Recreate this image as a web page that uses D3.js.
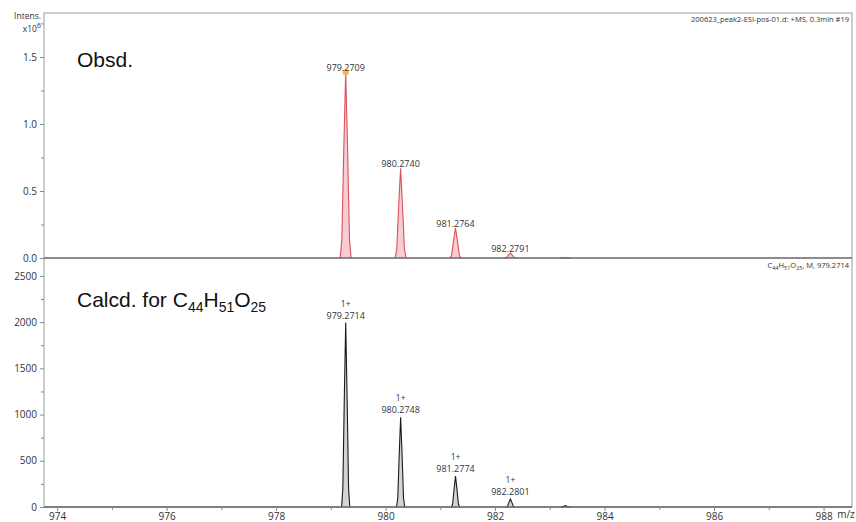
<!DOCTYPE html>
<html>
<head>
<meta charset="utf-8">
<script src="https://cdn.jsdelivr.net/npm/d3@7"></script>
<style>
  body { margin: 0; background: #fff; }
  text { font-family: "Open Sans", "DejaVu Sans", sans-serif; }
</style>
</head>
<body>
<svg id="chart" width="856" height="522"></svg>
<script>
// observed spectrum peaks (m/z, intensity x10^6)
var obsMz = [979.2709, 980.2740, 981.2764, 982.2791, 983.2820];
var obsInt = [1.385, 0.67, 0.224, 0.037, 0.004];
var obsLabels = ["979.2709", "980.2740", "981.2764", "982.2791", ""];

// calculated isotope pattern
var calcMz = [979.2714, 980.2748, 981.2774, 982.2801, 983.2830];
var calcInt = [1995, 970, 334, 86, 14];
var calcLabels = ["979.2714", "980.2748", "981.2774", "982.2801", ""];

var xTicks = [974, 976, 978, 980, 982, 984, 986, 988];
var xMinor = [975, 977, 979, 981, 983, 985, 987];
var yTopTicks = [0, 0.5, 1.0, 1.5];
var yTopMinor = [0.25, 0.75, 1.25, 1.75];
var yBotTicks = [0, 500, 1000, 1500, 2000, 2500];
var yBotMinor = [250, 750, 1250, 1750, 2250];

var mLeft = 44, mRight = 852, mTop = 13, mMid = 258, mBottom = 507;
var svg = d3.select("#chart");

var x = d3.scaleLinear().domain([973.76, 988.52]).range([mLeft, mRight]);
var yTop = d3.scaleLinear().domain([0, 1.828]).range([mMid, mTop]);
var yBot = d3.scaleLinear().domain([0, 2683]).range([mBottom, mMid + 1]);

// frame
svg.append("rect").attr("x", mLeft).attr("y", mTop)
  .attr("width", mRight - mLeft).attr("height", mBottom - mTop)
  .attr("fill", "none").attr("stroke", "#9a9a9a").attr("stroke-width", 1);

// peak profile template (shape only)
var shapeDx = [-1, -0.7, -0.35, 0, 0.35, 0.7, 1];
var shapeDy = [0, 0.1, 0.58, 1, 0.58, 0.1, 0];

function peakPoints(mz, h, half) {
  return shapeDx.map(function (d, i) { return [mz + d * half, h * shapeDy[i]]; });
}

function drawPeaks(mzs, ints, y, half, fill, stroke) {
  var area = d3.area().x(function (d) { return x(d[0]); })
    .y0(y(0)).y1(function (d) { return y(d[1]); });
  var line = d3.line().x(function (d) { return x(d[0]); })
    .y(function (d) { return y(d[1]); });
  var g = svg.append("g");
  mzs.forEach(function (m, i) {
    var pts = peakPoints(m, ints[i], half);
    g.append("path").attr("d", area(pts)).attr("fill", fill);
    g.append("path").attr("d", line(pts)).attr("fill", "none")
      .attr("stroke", stroke).attr("stroke-width", 1.1);
  });
}

drawPeaks(obsMz, obsInt, yTop, 0.1, "#f6cdd3", "#d8505c");
drawPeaks(calcMz, calcInt, yBot, 0.075, "#d4d4d4", "#1a1a1a");

// baselines
svg.append("line").attr("x1", mLeft).attr("x2", mRight)
  .attr("y1", mMid).attr("y2", mMid).attr("stroke", "#666").attr("stroke-width", 1.5);
svg.append("line").attr("x1", mLeft).attr("x2", mRight)
  .attr("y1", mBottom).attr("y2", mBottom).attr("stroke", "#666").attr("stroke-width", 1.5);

// apex marker on the base peak
svg.append("circle").attr("cx", x(obsMz[0])).attr("cy", yTop(obsInt[0]))
  .attr("r", 3.2).attr("fill", "#f2b54a").attr("opacity", 0.9);

// peak labels
svg.append("g").selectAll("text").data(obsMz).enter().append("text")
  .attr("x", function (d) { return x(d); })
  .attr("y", function (d, i) { return yTop(obsInt[i]) - 1; })
  .attr("text-anchor", "middle").attr("font-size", 9).attr("fill", "#333")
  .text(function (d, i) { return obsLabels[i]; });

var cl = svg.append("g").selectAll("g").data(calcMz.filter(function (d, i) { return calcLabels[i]; }))
  .enter().append("g");
cl.append("text")
  .attr("x", function (d) { return x(d); })
  .attr("y", function (d, i) { return yBot(calcInt[i]) - 16; })
  .attr("text-anchor", "middle").attr("font-size", 8.5).attr("fill", "#333").text("1+");
cl.append("text")
  .attr("x", function (d) { return x(d); })
  .attr("y", function (d, i) { return yBot(calcInt[i]) - 4; })
  .attr("text-anchor", "middle").attr("font-size", 9).attr("fill", "#333")
  .text(function (d, i) { return calcLabels[i]; });

// axes
function styleAxis(g) {
  g.select(".domain").remove();
  g.selectAll("line").attr("stroke", "#888");
  g.selectAll("text").attr("fill", "#333").attr("font-size", 10)
    .style("font-family", "'Open Sans', 'DejaVu Sans', sans-serif");
}

svg.append("g").attr("transform", "translate(" + mLeft + ",0)")
  .call(d3.axisLeft(yTop).tickValues(yTopTicks).tickFormat(d3.format(".1f")).tickSize(4).tickPadding(3))
  .call(styleAxis);
svg.append("g").attr("transform", "translate(" + mLeft + ",0)")
  .call(d3.axisLeft(yTop).tickValues(yTopMinor).tickFormat("").tickSize(3))
  .call(styleAxis);
svg.append("g").attr("transform", "translate(" + mLeft + ",0)")
  .call(d3.axisLeft(yBot).tickValues(yBotTicks).tickFormat(d3.format("d")).tickSize(4).tickPadding(3))
  .call(styleAxis);
svg.append("g").attr("transform", "translate(" + mLeft + ",0)")
  .call(d3.axisLeft(yBot).tickValues(yBotMinor).tickFormat("").tickSize(3))
  .call(styleAxis);
svg.append("g").attr("transform", "translate(0," + mBottom + ")")
  .call(d3.axisBottom(x).tickValues(xTicks).tickFormat(d3.format("d")).tickSize(4).tickPadding(2))
  .call(styleAxis);
svg.append("g").attr("transform", "translate(0," + mBottom + ")")
  .call(d3.axisBottom(x).tickValues(xMinor).tickFormat("").tickSize(3))
  .call(styleAxis);

// axis titles
svg.append("text").attr("x", 41).attr("y", 19).attr("text-anchor", "end")
  .attr("font-size", 8.5).attr("fill", "#333").text("Intens.");
var t6 = svg.append("text").attr("x", 41).attr("y", 32).attr("text-anchor", "end")
  .attr("font-size", 8.5).attr("fill", "#333");
t6.append("tspan").text("x10");
t6.append("tspan").attr("dy", -4).attr("font-size", 7).text("6");
svg.append("text").attr("x", 846).attr("y", 518).attr("text-anchor", "middle")
  .attr("font-size", 10).attr("fill", "#333").text("m/z");

// header texts
svg.append("text").attr("x", 849).attr("y", 22).attr("text-anchor", "end")
  .attr("font-size", 7.5).attr("fill", "#333").text("200623_peak2-ESI-pos-01.d: +MS, 0.3min #19");
var ht = svg.append("text").attr("x", 849).attr("y", 268).attr("text-anchor", "end")
  .attr("font-size", 7.5).attr("fill", "#333");
ht.append("tspan").text("C");
ht.append("tspan").attr("font-size", 5.5).attr("dy", 1.5).text("44");
ht.append("tspan").attr("dy", -1.5).text("H");
ht.append("tspan").attr("font-size", 5.5).attr("dy", 1.5).text("51");
ht.append("tspan").attr("dy", -1.5).text("O");
ht.append("tspan").attr("font-size", 5.5).attr("dy", 1.5).text("25");
ht.append("tspan").attr("dy", -1.5).text(", M, 979.2714");

// panel captions
svg.append("text").attr("x", 77).attr("y", 67).attr("font-size", 21)
  .style("font-family", "'Liberation Sans', Arial, sans-serif").attr("fill", "#111").text("Obsd.");
var cap = svg.append("text").attr("x", 77).attr("y", 307).attr("font-size", 21)
  .style("font-family", "'Liberation Sans', Arial, sans-serif").attr("fill", "#111");
cap.append("tspan").text("Calcd. for C");
cap.append("tspan").attr("font-size", 14).attr("dy", 5).text("44");
cap.append("tspan").attr("dy", -5).text("H");
cap.append("tspan").attr("font-size", 14).attr("dy", 5).text("51");
cap.append("tspan").attr("dy", -5).text("O");
cap.append("tspan").attr("font-size", 14).attr("dy", 5).text("25");
</script>
</body>
</html>
